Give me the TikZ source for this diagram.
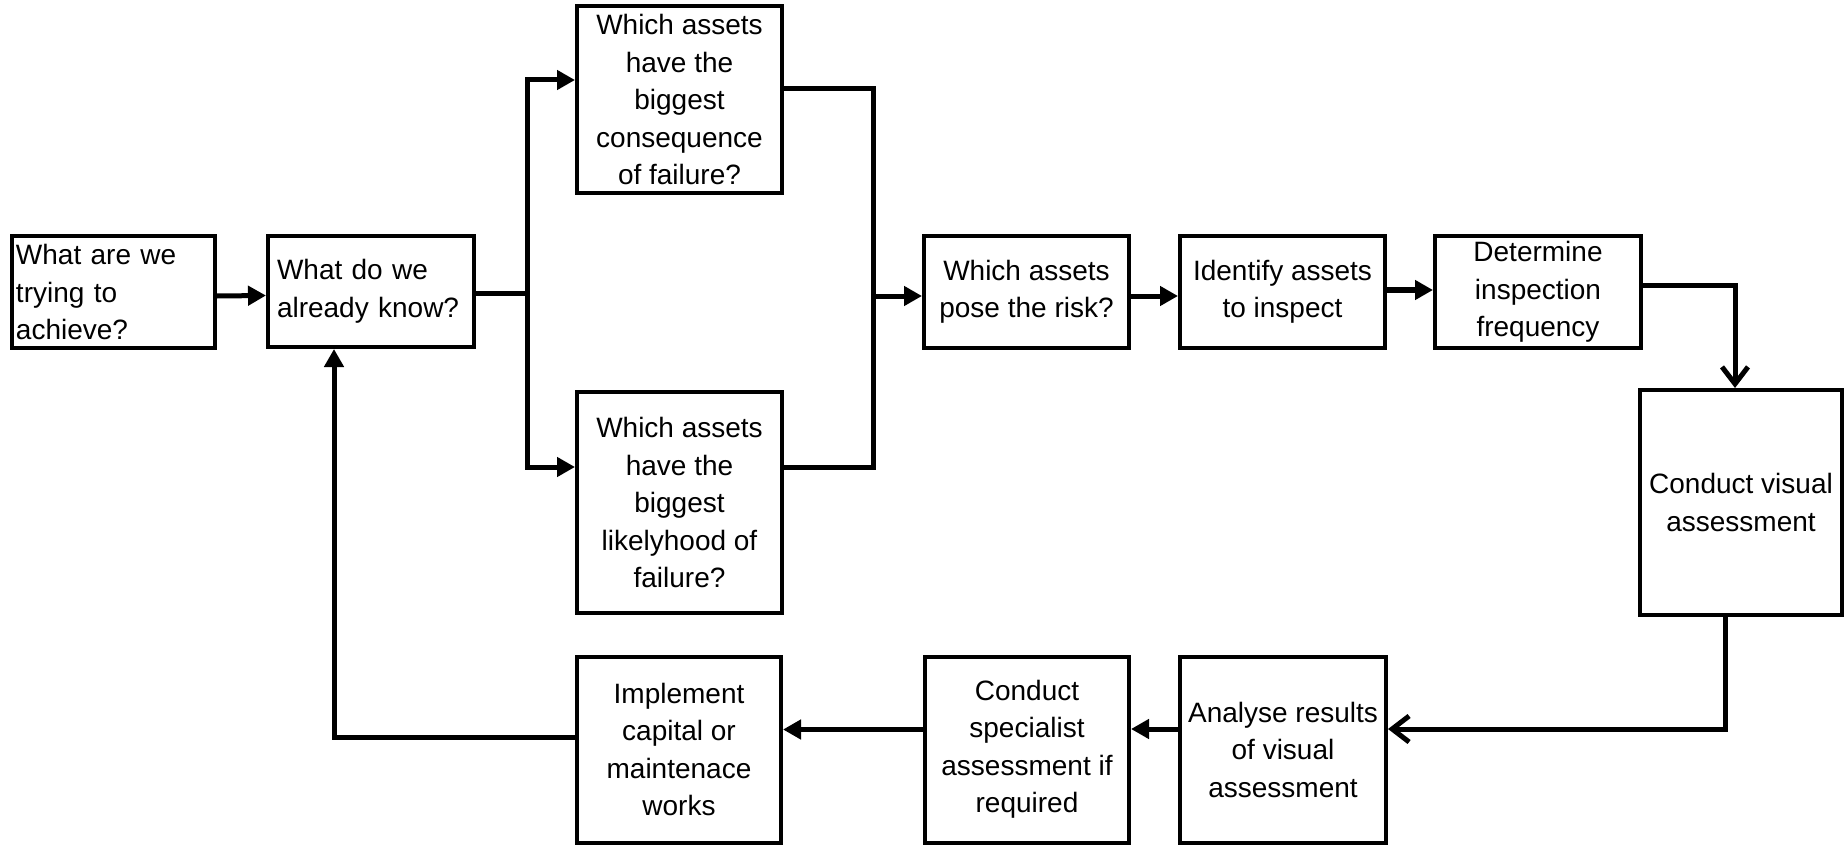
\documentclass[tikz,border=0pt]{standalone}
\usepackage{fontspec}
\setmainfont{Liberation Sans}
\usetikzlibrary{arrows.meta}
\begin{document}
\begin{tikzpicture}[x=1pt,y=-1pt,
  box/.style={draw=black, line width=4pt, rectangle, inner sep=0pt, align=center,
    font=\fontsize{28pt}{37.5pt}\selectfont},
  conn/.style={line width=5pt, -{Triangle[length=18pt,width=19pt]}},
  plain/.style={line width=5pt},
  openarr/.style={line width=5pt, -{Straight Barb[length=17pt,width=26pt]}},
]
\fill[white] (0,0) rectangle (1845,845);
\useasboundingbox (0,0) rectangle (1845,845);

\node[box, minimum width=203pt, minimum height=112pt, text width=195pt, align=left] (goal) at (113.5,292) {What are we\\trying to\\achieve?};
\node[box, minimum width=206pt, minimum height=111pt, text width=188pt, align=left] (know) at (371,291.5) {What do we\\already know?};
\node[box, minimum width=205pt, minimum height=187pt] (cons) at (679.5,99.5) {Which assets\\have the\\biggest\\consequence\\of failure?};
\node[box, minimum width=205pt, minimum height=221pt] (like) at (679.5,502.5) {Which assets\\have the\\biggest\\likelyhood of\\failure?};
\node[box, minimum width=205pt, minimum height=112pt] (risk) at (1026.5,292) {Which assets\\pose the risk?};
\node[box, minimum width=205pt, minimum height=112pt] (inspect) at (1282.5,292) {Identify assets\\to inspect};
\node[box, minimum width=206pt, minimum height=112pt] (freq) at (1538,292) {Determine\\inspection\\frequency};
\node[box, minimum width=202pt, minimum height=225pt] (visual) at (1741,502.5) {Conduct visual\\assessment};
\node[box, minimum width=206pt, minimum height=186pt] (analyse) at (1283,749.5) {Analyse results\\of visual\\assessment};
\node[box, minimum width=204pt, minimum height=186pt] (special) at (1027,749.5) {Conduct\\specialist\\assessment if\\required};
\node[box, minimum width=204pt, minimum height=186pt] (impl) at (679,749.5) {Implement\\capital or\\maintenace\\works};

\coordinate (j) at (527,293);
\coordinate (jt) at (527,80);
\coordinate (jb) at (527,467);
\coordinate (kt) at (873,89);
\coordinate (kb) at (873,467);
\coordinate (km) at (873,296);
\coordinate (f) at (1735,285);
\coordinate (v) at (1725,729);
\coordinate (r) at (334,737);

\draw[conn] ([yshift=-4pt]goal.east) -- ([yshift=-4pt]know.west);
\draw[plain] (know.east |- j) -- (j);
\draw[conn] (j) -- (jt) -- (cons.west |- jt);
\draw[conn] (j) -- (jb) -- (like.west |- jb);
\draw[plain] (cons.east |- kt) -- (kt) -- (kb) -- (like.east |- kb);
\draw[conn] (km) -- (risk.west |- km);
\draw[conn] ([yshift=-4pt]risk.east) -- ([yshift=-4pt]inspect.west);
\draw[conn, line width=6pt] ([yshift=2pt]inspect.east) -- ([yshift=2pt]freq.west);
\draw[openarr] (freq.east |- f) -- (f) -- (f |- visual.north);
\draw[openarr] (visual.south -| v) -- (v) -- (analyse.east |- v);
\draw[conn] (analyse.west |- v) -- (special.east |- v);
\draw[conn] ([yshift=20pt]special.west) -- ([yshift=20pt]impl.east);
\draw[conn] (impl.west |- r) -- (r) -- (r |- know.south);
\end{tikzpicture}
\end{document}
